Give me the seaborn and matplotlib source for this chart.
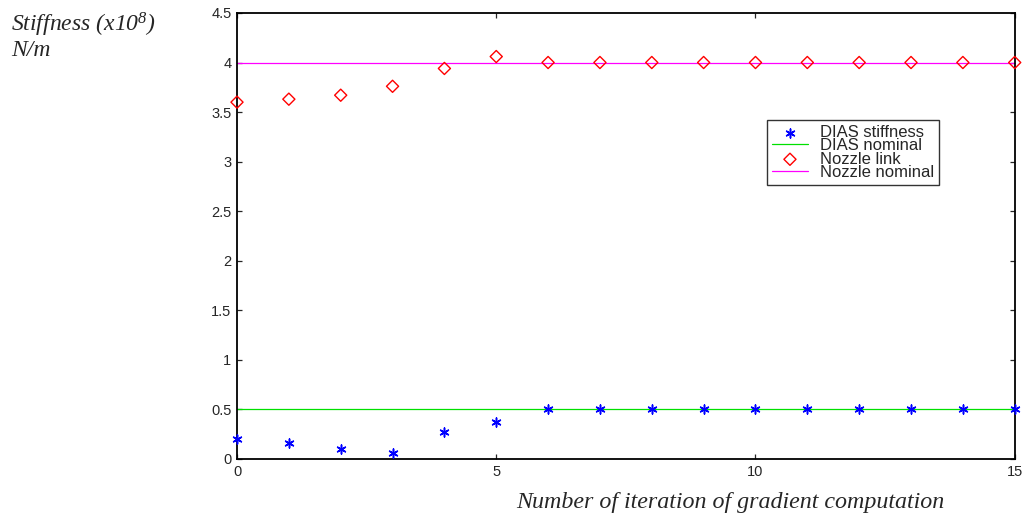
import matplotlib
matplotlib.use('Agg')
import matplotlib.pyplot as plt
import seaborn as sns
import pandas as pd

## Data
iterations = list(range(16))
dias_stiffness = [0.20, 0.16, 0.10, 0.06, 0.27, 0.37, 0.50, 0.50, 0.50, 0.50, 0.50, 0.50, 0.50, 0.50, 0.50, 0.50]
nozzle_link = [3.60, 3.63, 3.67, 3.76, 3.94, 4.06, 4.00, 4.00, 4.00, 4.00, 4.00, 4.00, 4.00, 4.00, 4.00, 4.00]
dias_nominal = [0.5] * 16
nozzle_nominal = [4.0] * 16

df = pd.DataFrame({'iteration': iterations, 'dias': dias_stiffness, 'nozzle': nozzle_link,
                   'dias_nom': dias_nominal, 'nozzle_nom': nozzle_nominal})

sns.set_style('white')
plt.rcParams['font.family'] = ['Liberation Sans', 'DejaVu Sans']
plt.rcParams['mathtext.fontset'] = 'custom'
plt.rcParams['mathtext.rm'] = 'Liberation Serif:italic'
plt.rcParams['mathtext.it'] = 'Liberation Serif:italic'

fig = plt.figure(figsize=(10.26, 5.18), dpi=100)
ax = fig.add_axes([0.231, 0.114, 0.758, 0.861])

sns.scatterplot(data=df, x='iteration', y='dias', ax=ax, marker=(6, 2, 0), s=42, color='blue',
                linewidth=1.1, edgecolor='blue', label='DIAS stiffness', zorder=3, clip_on=False)
sns.lineplot(data=df, x='iteration', y='dias_nom', ax=ax, color='#00e000', linewidth=0.9, label='DIAS nominal')
sns.scatterplot(data=df, x='iteration', y='nozzle', ax=ax, marker='D', s=38, facecolor='none',
                edgecolor='red', linewidth=1.0, label='Nozzle link', zorder=3, clip_on=False)
sns.lineplot(data=df, x='iteration', y='nozzle_nom', ax=ax, color='#ff00ff', linewidth=0.9, label='Nozzle nominal')

ax.set_xlim(0, 15)
ax.set_ylim(0, 4.5)
ax.set_xticks([0, 5, 10, 15])
ax.set_yticks([0, 0.5, 1, 1.5, 2, 2.5, 3, 3.5, 4, 4.5])
ax.set_yticklabels(['0', '0.5', '1', '1.5', '2', '2.5', '3', '3.5', '4', '4.5'])
ax.tick_params(direction='in', length=3.5, width=0.9, labelsize=10.5, top=True, right=True,
               bottom=True, left=True, labeltop=False, labelright=False, pad=4)
for s in ax.spines.values():
    s.set_visible(True)
    s.set_color('black')
    s.set_linewidth(1.3)
ax.set_xlabel('')
ax.set_ylabel('')

leg = ax.legend(loc='upper left', bbox_to_anchor=(0.681, 0.760), frameon=True, fancybox=False,
                edgecolor='black', fontsize=12, borderpad=0.3, labelspacing=-0.1,
                handlelength=2.2, handletextpad=0.7, borderaxespad=0)
leg.get_frame().set_linewidth(1.0)

fig.text(0.011, 0.952, 'Stiffness (x10$^{8}$)', family='Liberation Serif', style='italic', fontsize=17,
         va='center', ha='left')
fig.text(0.011, 0.903, 'N/m', family='Liberation Serif', style='italic', fontsize=17,
         va='center', ha='left')
fig.text(0.712, 0.029, 'Number of iteration of gradient computation', family='Liberation Serif',
         style='italic', fontsize=17.3, va='center', ha='center')

fig.savefig('out.png', dpi=100)
